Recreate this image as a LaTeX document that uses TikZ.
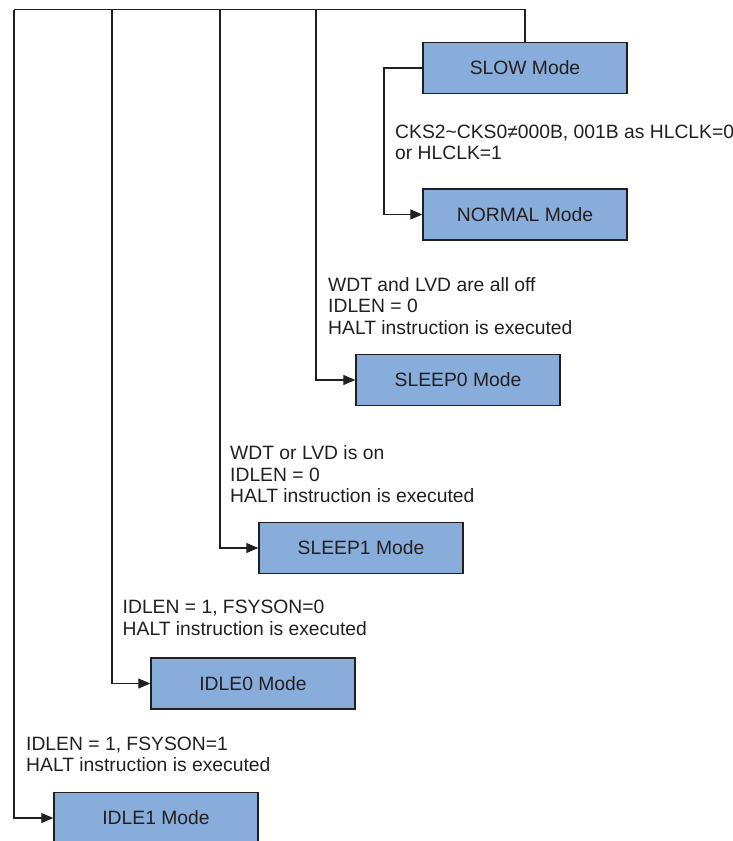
\documentclass[tikz,border=0pt]{standalone}
\usepackage{fontspec}
\setmainfont{Liberation Sans}
\usetikzlibrary{arrows.meta}
\definecolor{modeblue}{HTML}{88ADDB}
\definecolor{inkgrey}{HTML}{231F20}

\begin{document}
\begin{tikzpicture}[x=1pt, y=-1pt,
	mode/.style={draw=inkgrey, fill=modeblue, line width=1.4pt,
		minimum width=204pt, minimum height=51pt, inner sep=0pt,
		font=\fontsize{19.3}{21.3}\selectfont, text=inkgrey},
	cond/.style={anchor=base west, align=left, inner sep=0pt,
		font=\fontsize{19.3}{21.3}\selectfont, text=inkgrey},
	wire/.style={draw=inkgrey, line width=1.1pt},
	arr/.style={wire, -{Triangle[length=12pt,width=10pt]}}]

% frame %{{{2

	\useasboundingbox (0,0) rectangle (733,841);

% boxes %{{{2

	\node[mode] (slow)      at (525,68)    {SLOW Mode};
	\node[mode] (normal)    at (525,214.5) {NORMAL Mode};
	\node[mode] (sleepzero) at (458,380)   {SLEEP0 Mode};
	\node[mode] (sleepone)  at (361,548)   {SLEEP1 Mode};
	\node[mode] (idlezero)  at (253,683.5) {IDLE0 Mode};
	\node[mode] (idleone)   at (156,818)   {IDLE1 Mode};

% coordinates %{{{2

	\coordinate (T0) at (14,9.5);
	\coordinate (T1) at (112,9.5);
	\coordinate (T2) at (220,9.5);
	\coordinate (T3) at (316,9.5);
	\coordinate (bend) at (384,68);

% connectors %{{{2

	\draw[wire] (slow.north) |- (T0);
	\draw[arr] (T0) |- (idleone.west);
	\draw[arr] (T1) |- (idlezero.west);
	\draw[arr] (T2) |- (sleepone.west);
	\draw[arr] (T3) |- (sleepzero.west);

	\draw[arr] (slow.west) -- (bend) |- (normal.west);

% conditions (anchored at the last line) %{{{2

	\node[cond] (cnormal) at (395,159.5)
		{CKS2\char"7E CKS0≠000B, 001B as HLCLK=0\\or HLCLK=1};
	\node[cond] (csleepzero) at (328,334)
		{WDT and LVD are all off\\IDLEN = 0\\HALT instruction is executed};
	\node[cond] (csleepone) at (230,502.5)
		{WDT or LVD is on\\IDLEN = 0\\HALT instruction is executed};
	\node[cond] (cidlezero) at (122.5,635)
		{IDLEN = 1, FSYSON=0\\HALT instruction is executed};
	\node[cond] (cidleone) at (26,771.5)
		{IDLEN = 1, FSYSON=1\\HALT instruction is executed};

% closing %{{{2

\end{tikzpicture}
\end{document}
